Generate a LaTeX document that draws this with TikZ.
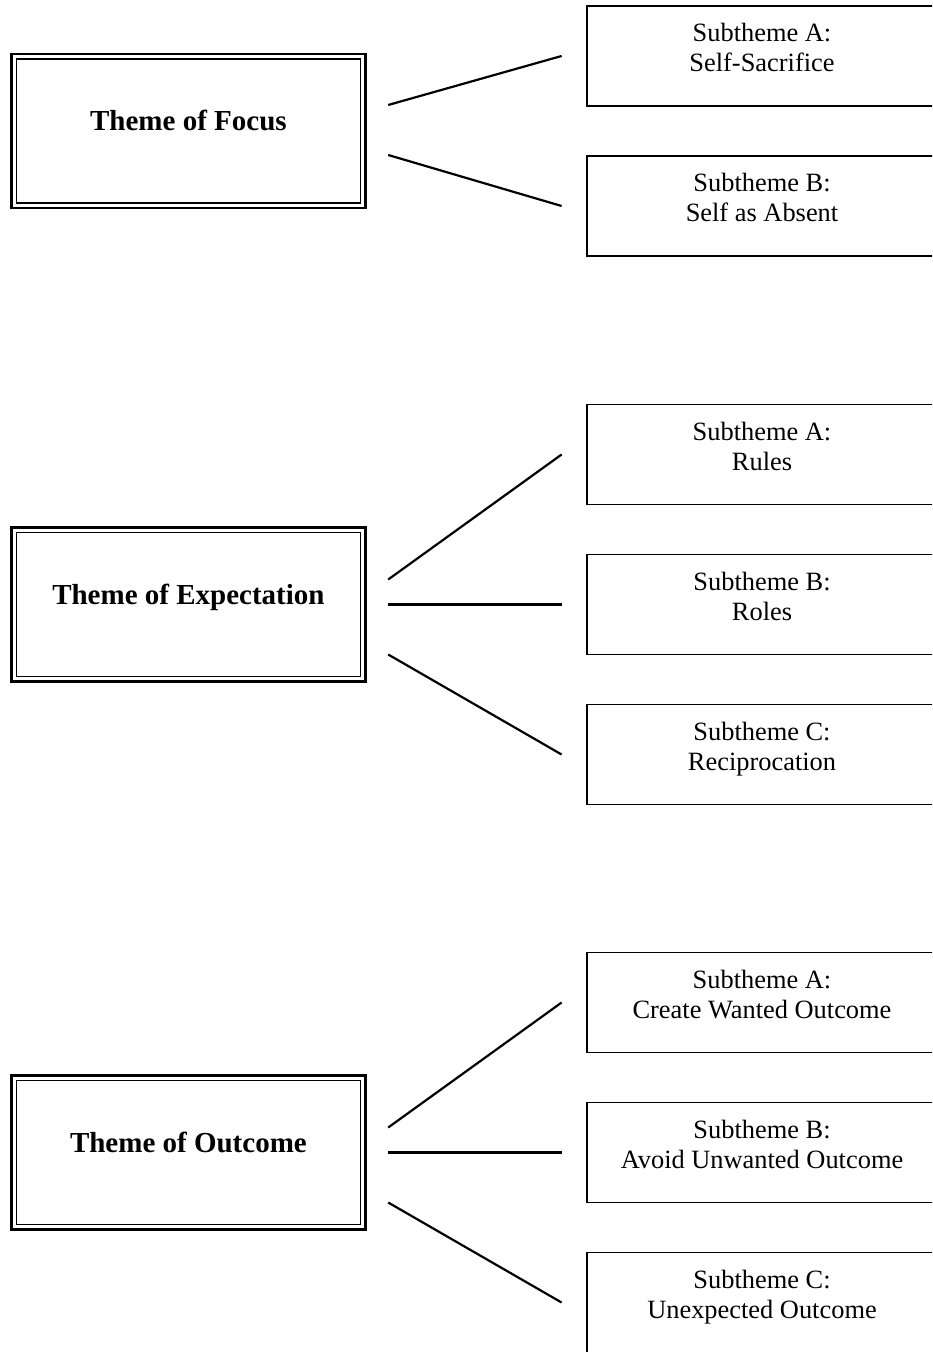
\documentclass[tikz,border=0pt]{standalone}
\usepackage{fontspec}
\setmainfont{Liberation Serif}
\usetikzlibrary{positioning}

\begin{document}
\begin{tikzpicture}[x=0.5pt, y=-0.5pt,
  themebox/.style={draw, line width=1.3pt, outer sep=0pt, inner sep=0pt, minimum width=177pt, minimum height=77pt, font=\fontsize{14.5}{17}\bfseries, text height=6pt, text depth=6pt},
  subbox/.style={draw, line width=0.8pt, outer sep=0pt, inner sep=0pt, minimum width=175pt, minimum height=50pt},
  subtext/.style={inner sep=0pt, align=center, font=\fontsize{13.2}{15}\selectfont},
  link/.style={line width=1.1pt}]
  \useasboundingbox (0,0) rectangle (932,1352);
  \clip (0,0) rectangle (932,1352);

  \node[themebox] (focus) at (188.4,131) {Theme of Focus};
  \node[themebox] (expect) at (188.4,604.5) {Theme of Expectation};
  \node[themebox] (outcome) at (188.4,1152.5) {Theme of Outcome};
  \foreach \t in {focus,expect,outcome}
    \draw[line width=0.8pt] ([shift={(2.5pt,-2.5pt)}]\t.north west) rectangle ([shift={(-2.5pt,2.5pt)}]\t.south east);

  \node[subbox] (focusA) at (762,56) {};
  \node[subbox, below=25pt of focusA] (focusB) {};
  \node[subbox] (expectA) at (762,454.5) {};
  \node[subbox, below=25pt of expectA] (expectB) {};
  \node[subbox, below=25pt of expectB] (expectC) {};
  \node[subbox] (outcomeA) at (762,1002.5) {};
  \node[subbox, below=25pt of outcomeA] (outcomeB) {};
  \node[subbox, below=25pt of outcomeB] (outcomeC) {};

  \node[subtext] (focusAtext) at ([yshift=2.5pt]focusA.center) {\strut Subtheme A:\\\strut Self-Sacrifice};
  \node[subtext] (focusBtext) at ([yshift=2.5pt]focusB.center) {\strut Subtheme B:\\\strut Self as Absent};
  \node[subtext] (expectAtext) at ([yshift=2.5pt]expectA.center) {\strut Subtheme A:\\\strut Rules};
  \node[subtext] (expectBtext) at ([yshift=2.5pt]expectB.center) {\strut Subtheme B:\\\strut Roles};
  \node[subtext] (expectCtext) at ([yshift=2.5pt]expectC.center) {\strut Subtheme C:\\\strut Reciprocation};
  \node[subtext] (outcomeAtext) at ([yshift=2.5pt]outcomeA.center) {\strut Subtheme A:\\\strut Create Wanted Outcome};
  \node[subtext] (outcomeBtext) at ([yshift=2.5pt]outcomeB.center) {\strut Subtheme B:\\\strut Avoid Unwanted Outcome};
  \node[subtext] (outcomeCtext) at ([yshift=2.5pt]outcomeC.center) {\strut Subtheme C:\\\strut Unexpected Outcome};

  \draw[link] ([xshift=11.4pt, yshift=13pt]focus.east) -- ([xshift=-12.7pt]focusA.west);
  \draw[link] ([xshift=11.4pt, yshift=-12pt]focus.east) -- ([xshift=-12.7pt]focusB.west);
  \draw[link] ([xshift=11.4pt, yshift=12.5pt]expect.east) -- ([xshift=-12.7pt]expectA.west);
  \draw[link] ([xshift=11.4pt]expect.east) -- ([xshift=-12.7pt]expectB.west);
  \draw[link] ([xshift=11.4pt, yshift=-25pt]expect.east) -- ([xshift=-12.7pt]expectC.west);
  \draw[link] ([xshift=11.4pt, yshift=12.5pt]outcome.east) -- ([xshift=-12.7pt]outcomeA.west);
  \draw[link] ([xshift=11.4pt]outcome.east) -- ([xshift=-12.7pt]outcomeB.west);
  \draw[link] ([xshift=11.4pt, yshift=-25pt]outcome.east) -- ([xshift=-12.7pt]outcomeC.west);
\end{tikzpicture}
\end{document}
